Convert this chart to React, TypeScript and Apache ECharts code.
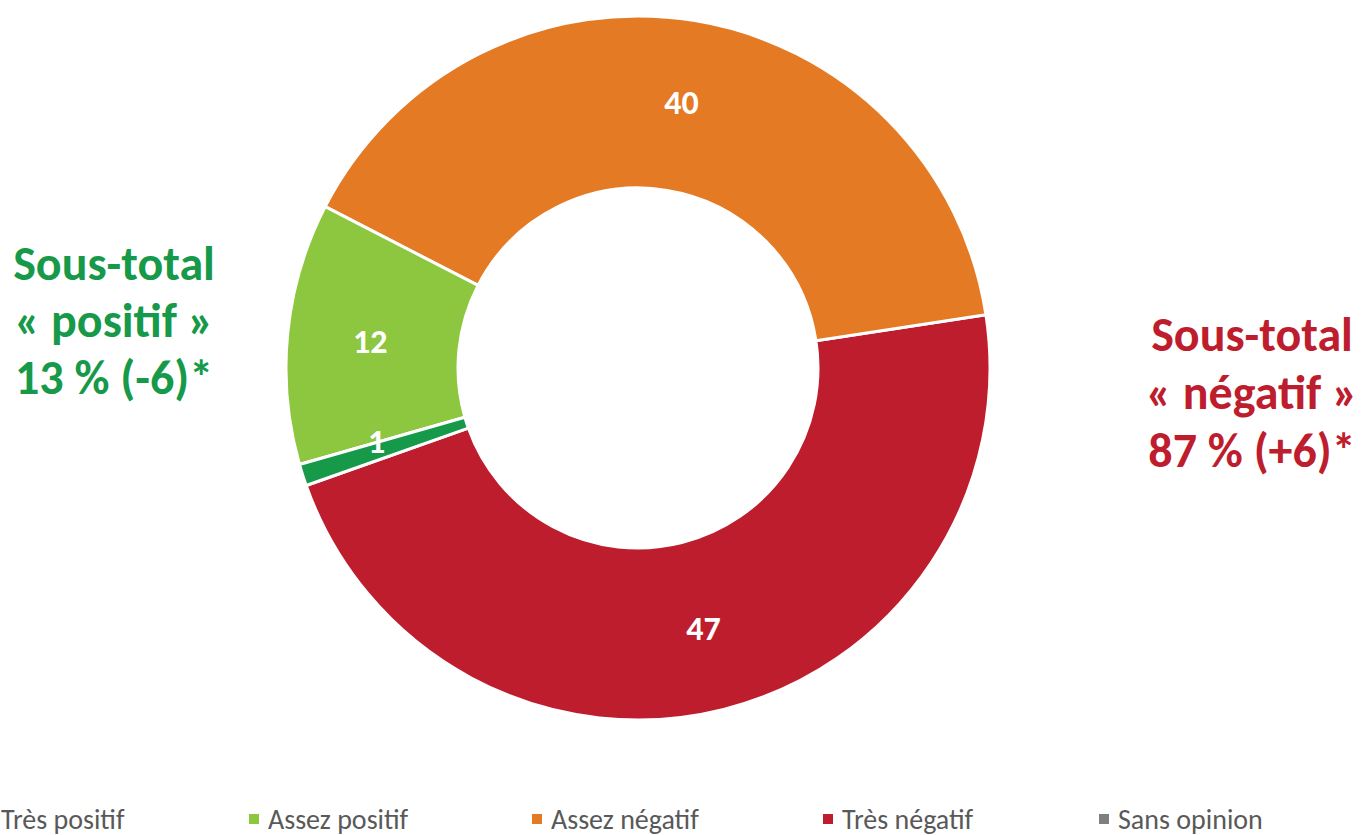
import React, { useEffect, useRef } from "react";
import * as echarts from "echarts";

const categories = ["Très positif", "Assez positif", "Assez négatif", "Très négatif", "Sans opinion"];
const values = [1, 12, 40, 47, 0];
const colors = ["#17994A", "#8DC63F", "#E57A24", "#BE1D2E", "#7F7F7F"];
const legendLefts = [-20, 247, 530, 821, 1097];
const leftNote = ["Sous-total", "« positif »", "13 % (-6)*"];
const rightNote = ["Sous-total", "« négatif »", "87 % (+6)*"];

const FONT = "Calibri, Carlito, Lato, sans-serif";

export default function App() {
  const ref = useRef<HTMLDivElement>(null);
  useEffect(() => {
    if (!ref.current) return;
    const chart = echarts.init(ref.current, undefined, { renderer: "svg" });
    const data = categories
      .map((name, i) => ({
        name,
        value: values[i],
        itemStyle: { color: colors[i] },
        label: i === 0 ? { show: true, offset: [-5, -8] } : { show: values[i] > 0 },
      }))
      .reverse();
    chart.setOption({
      animation: false,
      backgroundColor: "#ffffff",
      legend: categories.map((name, i) => ({
        data: [name],
        left: legendLefts[i],
        top: 805,
        orient: "horizontal",
        icon: "rect",
        itemWidth: 12,
        itemHeight: 12,
        selectedMode: false,
        padding: 0,
        textStyle: {
          fontFamily: FONT,
          fontSize: 28,
          color: "#595959",
          lineHeight: 28,
          padding: [0, 0, 0, 3],
        },
      })),
      series: [
        {
          type: "pie",
          center: [638, 368],
          radius: [180, 352],
          startAngle: 199.5,
          clockwise: false,
          avoidLabelOverlap: false,
          selectedMode: false,
          emphasis: { disabled: true },
          itemStyle: { borderColor: "#ffffff", borderWidth: 3 },
          label: {
            position: "inside",
            formatter: "{c}",
            color: "#ffffff",
            textBorderWidth: 0,
            textBorderColor: "transparent",
            fontFamily: FONT,
            fontWeight: "bold",
            fontSize: 34,
            overflow: "none",
          },
          labelLine: { show: false },
          labelLayout: { hideOverlap: false },
          data,
        },
      ],
      graphic: [
        {
          type: "text",
          x: 114,
          y: 320,
          style: {
            text: leftNote.join("\n"),
            fill: "#17994A",
            fontFamily: FONT,
            fontWeight: "bold",
            fontSize: 48,
            lineHeight: 57,
            textAlign: "center",
            textVerticalAlign: "middle",
          },
        },
        {
          type: "text",
          x: 1252,
          y: 392,
          style: {
            text: rightNote.join("\n"),
            fill: "#BE1D2E",
            fontFamily: FONT,
            fontWeight: "bold",
            fontSize: 48,
            lineHeight: 58,
            textAlign: "center",
            textVerticalAlign: "middle",
          },
        },
      ],
    });
    return () => chart.dispose();
  }, []);
  return (
    <div
      ref={ref}
      style={{ position: "absolute", left: 0, top: 0, width: 1362, height: 835 }}
    />
  );
}
